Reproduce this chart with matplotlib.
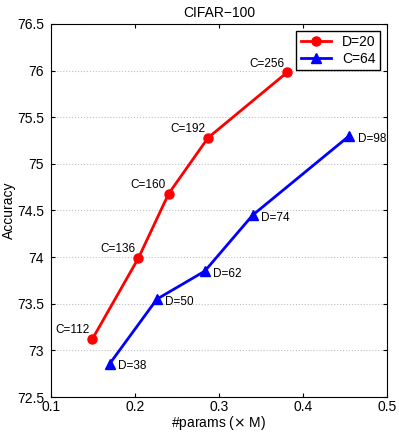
import matplotlib
matplotlib.use('Agg')
import matplotlib.pyplot as plt

plt.rcParams['font.family'] = ['Liberation Sans', 'DejaVu Sans']

# D=20, varying C
d20_params = [0.149, 0.204, 0.240, 0.287, 0.381]
d20_acc = [73.12, 73.99, 74.68, 75.28, 75.98]
d20_labels = ['C=112', 'C=136', 'C=160', 'C=192', 'C=256']

# C=64, varying D
c64_params = [0.170, 0.226, 0.283, 0.340, 0.455]
c64_acc = [72.86, 73.55, 73.85, 74.45, 75.30]
c64_labels = ['D=38', 'D=50', 'D=62', 'D=74', 'D=98']

fig = plt.figure(figsize=(3.99, 4.34), dpi=100)
ax = fig.add_axes([0.128, 0.085, 0.842, 0.860])

ax.plot(d20_params, d20_acc, '-o', color='red', lw=2, ms=6.5, label='D=20')
ax.plot(c64_params, c64_acc, '-^', color='blue', lw=2, ms=7.5, label='C=64')

for x, y, s in zip(d20_params, d20_acc, d20_labels):
    ax.annotate(s, (x, y), xytext=(-2, 2), textcoords='offset points',
                ha='right', va='bottom', fontsize=8.5)
for x, y, s in zip(c64_params, c64_acc, c64_labels):
    ax.annotate(s, (x, y), xytext=(6, -2), textcoords='offset points',
                ha='left', va='center', fontsize=8.5)

ax.set_xlim(0.1, 0.5)
ax.set_ylim(72.5, 76.5)
ax.set_xticks([0.1, 0.2, 0.3, 0.4, 0.5])
ax.set_xticklabels(['0.1', '0.2', '0.3', '0.4', '0.5'])
ax.set_yticks([72.5, 73, 73.5, 74, 74.5, 75, 75.5, 76, 76.5])
ax.set_yticklabels(['72.5', '73', '73.5', '74', '74.5', '75', '75.5', '76', '76.5'])
ax.yaxis.grid(True, linestyle=':', color='#c0c0c0', lw=0.8)
ax.tick_params(direction='in', top=True, right=True, labelsize=10, length=3)
ax.tick_params(axis='x', pad=2)
ax.tick_params(axis='y', pad=5)
ax.set_xlabel('#params ($\\times$ M)', fontsize=10, labelpad=0)
ax.set_ylabel('Accuracy', fontsize=10, labelpad=1)
ax.set_title('CIFAR\u2212100', fontsize=10, pad=5)
ax.legend(loc='upper right', fontsize=10, fancybox=False, edgecolor='black',
          handlelength=2.2, borderpad=0.3, labelspacing=0.2, framealpha=1)

fig.savefig('out.png', dpi=100)
